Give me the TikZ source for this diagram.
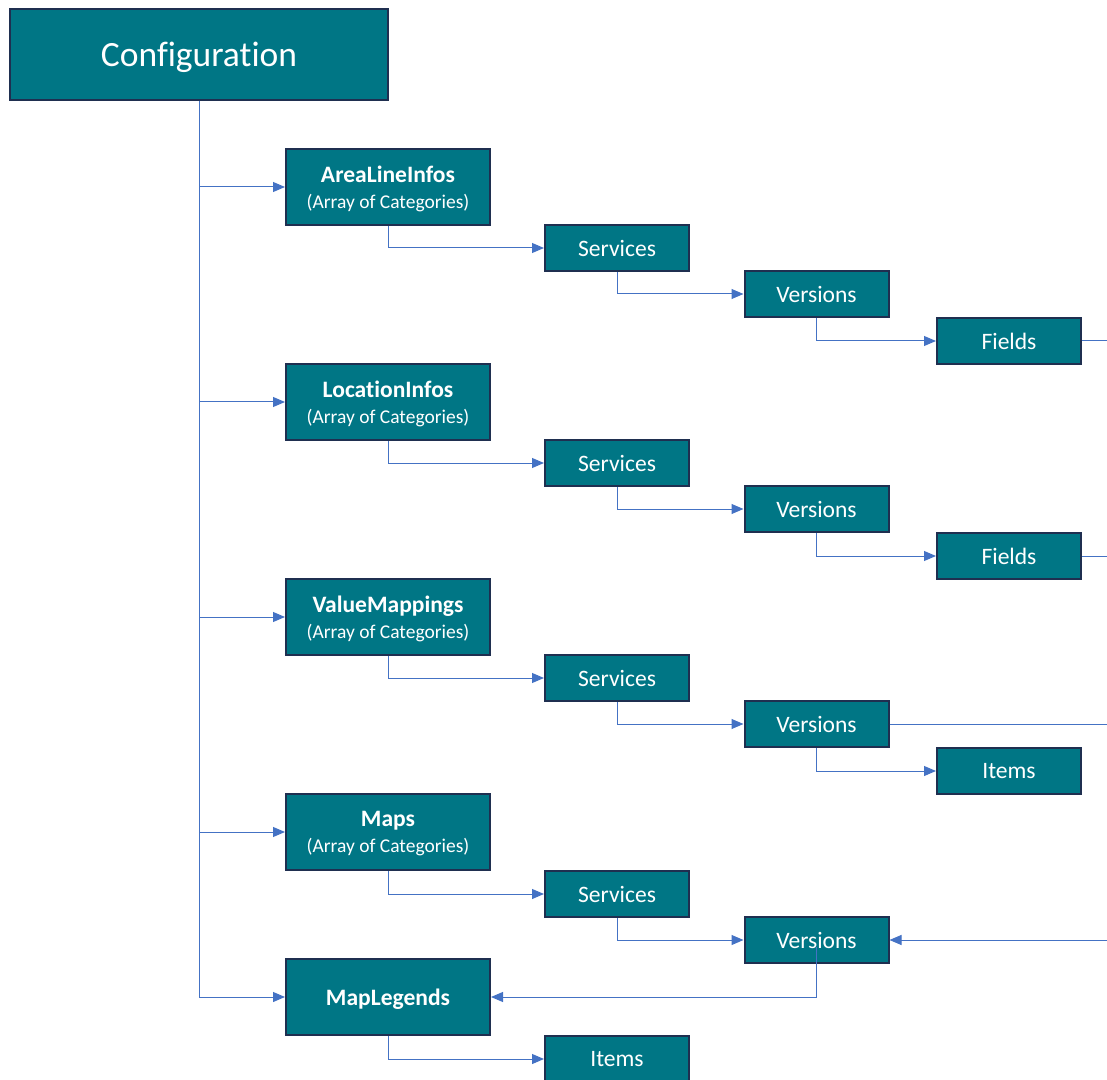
\documentclass[tikz,border=0pt]{standalone}
\usepackage{fontspec}
\setmainfont[Ligatures=NoCommon]{Carlito}
\usepackage{tikz}
\usetikzlibrary{positioning}
\usetikzlibrary{arrows.meta}
\definecolor{boxteal}{RGB}{0,118,133}
\definecolor{boxedge}{RGB}{31,47,80}
\definecolor{linkblue}{RGB}{68,114,196}
\newcommand{\catlabel}[1]{{\bfseries #1}\\[-1pt]{\fontsize{11.1}{13}\selectfont (Array of Categories)}}
\tikzset{
    every node/.style={ % all boxes share the teal look
        draw=boxedge,
        line width=0.04cm,
        fill=boxteal,
        text=white,
        inner sep=0pt,
        font=\fontsize{13.4}{16}\selectfont
    },
    rootbox/.style={minimum width=7.56cm, minimum height=1.82cm, text depth=0pt, font=\fontsize{20.2}{24}\selectfont},
    catbox/.style={minimum width=4.08cm, minimum height=1.52cm, align=center, text depth=0pt},
    leafbox/.style={minimum width=2.88cm, minimum height=0.92cm},
    link/.style={ % thin blue connector
        draw=linkblue,
        line width=0.02cm,
        -{Triangle[length=0.24cm,width=0.2cm]}
    },
    plainlink/.style={draw=linkblue, line width=0.02cm}
}
\begin{document}
\begin{tikzpicture}
    \useasboundingbox (0,0) rectangle (22.14,-21.6);

    \node[rootbox] (config) at (3.98,-1.09) {Configuration};

    % category boxes
    \node[catbox] (arealine) at (7.76,-3.74) {\catlabel{AreaLineInfos}};
    \node[catbox] (location) at (7.76,-8.04) {\catlabel{LocationInfos}};
    \node[catbox] (valuemap) at (7.76,-12.34) {\catlabel{ValueMappings}};
    \node[catbox] (maps) at (7.76,-16.64) {\catlabel{Maps}};
    \node[catbox] (legends) at (7.76,-19.94) {\textbf{MapLegends}};

    % services
    \node[leafbox] (serv1) at (12.34,-4.96) {Services};
    \node[leafbox] (serv2) at (12.34,-9.26) {Services};
    \node[leafbox] (serv3) at (12.34,-13.56) {Services};
    \node[leafbox] (serv4) at (12.34,-17.88) {Services};
    \node[leafbox] (items2) at (12.34,-21.18) {Items};

    % versions
    \node[leafbox] (ver1) at (16.33,-5.88) {Versions};
    \node[leafbox] (ver2) at (16.33,-10.18) {Versions};
    \node[leafbox] (ver3) at (16.33,-14.48) {Versions};
    \node[leafbox] (ver4) at (16.33,-18.80) {Versions};

    % fields / items
    \node[leafbox] (fields1) at (20.18,-6.82) {Fields};
    \node[leafbox] (fields2) at (20.18,-11.12) {Fields};
    \node[leafbox] (items1) at (20.18,-15.42) {Items};

    % loose ends at the right border
    \coordinate (f1end) at (22.14,-6.82);
    \coordinate (f2end) at (22.14,-11.12);
    \coordinate (v3end) at (22.14,-14.48);
    \coordinate (v4end) at (22.14,-18.80);

    % trunk
    \draw[link] (config.south) |- (arealine.west);
    \draw[link] (config.south) |- (location.west);
    \draw[link] (config.south) |- (valuemap.west);
    \draw[link] (config.south) |- (maps.west);
    \draw[link] (config.south) |- (legends.west);

    % category -> services
    \draw[link] (arealine.south) |- (serv1.west);
    \draw[link] (location.south) |- (serv2.west);
    \draw[link] (valuemap.south) |- (serv3.west);
    \draw[link] (maps.south) |- (serv4.west);
    \draw[link] (legends.south) |- (items2.west);

    % services -> versions
    \draw[link] (serv1.south) |- (ver1.west);
    \draw[link] (serv2.south) |- (ver2.west);
    \draw[link] (serv3.south) |- (ver3.west);
    \draw[link] (serv4.south) |- (ver4.west);

    % versions -> fields / items
    \draw[link] (ver1.south) |- (fields1.west);
    \draw[link] (ver2.south) |- (fields2.west);
    \draw[link] (ver3.south) |- (items1.west);

    % lines leaving the picture
    \draw[plainlink] (fields1.east) -- (f1end);
    \draw[plainlink] (fields2.east) -- (f2end);
    \draw[plainlink] (ver3.east) -- (v3end);
    \draw[link] (v4end) -- (ver4.east);
    \draw[link] ([yshift=-0.14cm]ver4.center) |- (legends.east);
\end{tikzpicture}
\end{document}
